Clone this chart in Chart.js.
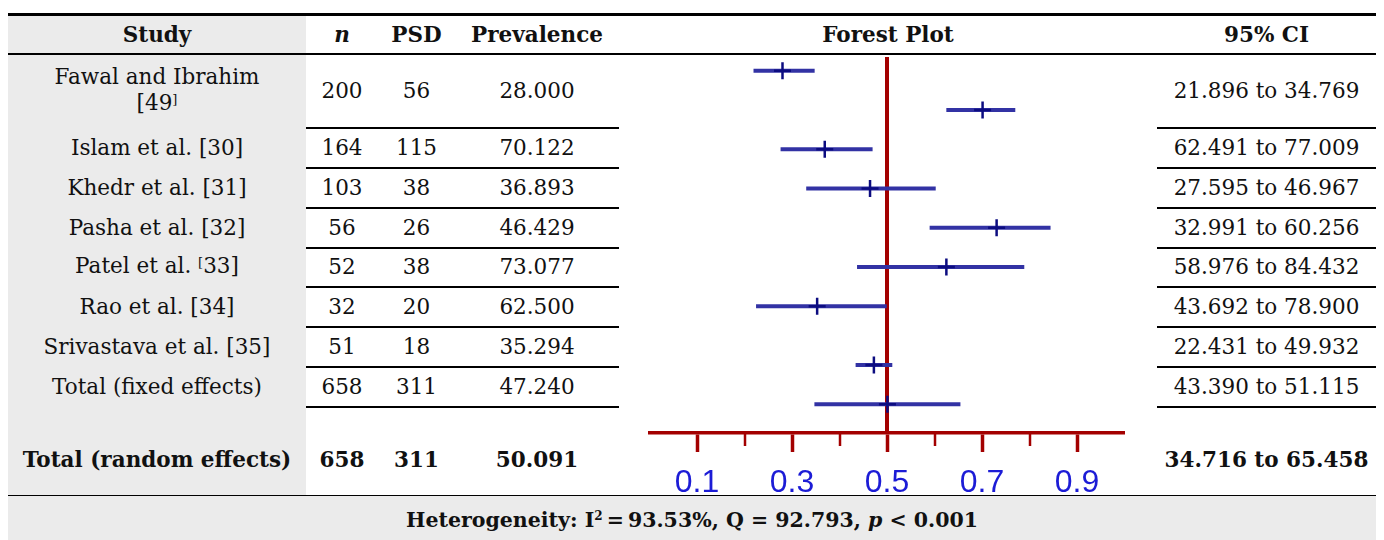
<!DOCTYPE html>
<html>
<head>
<meta charset="utf-8">
<script src="https://cdn.jsdelivr.net/npm/chart.js@4.4.1/dist/chart.umd.min.js"></script>
<style>
  html, body { margin: 0; padding: 0; background: #fff; }
  #page { position: relative; width: 1384px; height: 540px; overflow: hidden;
          font-family: 'DejaVu Serif', serif; font-size: 21.5px; color: #111; }
  .cell { position: absolute; display: flex; align-items: center; justify-content: center;
          text-align: center; line-height: 26px; white-space: nowrap; }
  .bold { font-weight: bold; }
  .rule { position: absolute; background: #000; }
  .gray { position: absolute; background: #ebebeb; }
  .tiny { font-size: 13px; position: relative; top: -6px; }
  .het { font-size: 20.5px; padding-top: 6px; box-sizing: border-box; }
  #forest { position: absolute; left: 619px; top: 55px; }
</style>
</head>
<body>
<div id="page">
  <canvas id="forest" width="538" height="440"></canvas>
</div>
<script>
// table data
var studyLabels = [
  'Fawal and Ibrahim<br>[49<span class="tiny">]</span>',
  'Islam et al. [30]',
  'Khedr et al. [31]',
  'Pasha et al. [32]',
  'Patel et al. <span class="tiny">[</span>33]',
  'Rao et al. [34]',
  'Srivastava et al. [35]',
  'Total (fixed effects)',
  'Total (random effects)'
];
var sampleN = [200, 164, 103, 56, 52, 32, 51, 658, 658];
var psdCount = [56, 115, 38, 26, 38, 20, 18, 311, 311];
var prevalence = [28.000, 70.122, 36.893, 46.429, 73.077, 62.500, 35.294, 47.240, 50.091];
var ciLow = [21.896, 62.491, 27.595, 32.991, 58.976, 43.692, 22.431, 43.390, 34.716];
var ciHigh = [34.769, 77.009, 46.967, 60.256, 84.432, 78.900, 49.932, 51.115, 65.458];

// forest plot rows (the plot stacks its own rows, totals set apart)
var plotRows = [1, 2, 3, 4, 5, 6, 7, 8.5, 9.5];
var refValue = 0.5;
var majorTicks = [0.1, 0.3, 0.5, 0.7, 0.9];
var minorTicks = [0.2, 0.4, 0.6, 0.8];

var headers = ['Study', '<i>n</i>', 'PSD', 'Prevalence', 'Forest Plot', '95% CI'];
var colX = [8, 306, 378, 455, 619, 1157, 1376];
var rowY = [15, 54, 128, 168, 207.5, 247.5, 287, 327, 367, 407, 495];

var page = document.getElementById('page');

function addBox(cls, left, top, width, height, html) {
  var d = document.createElement('div');
  d.className = cls;
  d.style.left = left + 'px';
  d.style.top = top + 'px';
  d.style.width = width + 'px';
  d.style.height = height + 'px';
  if (html !== undefined) {
    var inner = document.createElement('div');
    inner.innerHTML = html;
    d.appendChild(inner);
  }
  page.appendChild(d);
  return d;
}

// backgrounds
addBox('gray', colX[0], 16, colX[1] - colX[0], rowY[10] - 16);
addBox('gray', colX[0], 496, colX[6] - colX[0], 44);

// header
headers.forEach(function(h, c) {
  addBox('cell bold', colX[c], rowY[0], colX[c + 1] - colX[c], rowY[1] - rowY[0], h);
});

// body rows
studyLabels.forEach(function(label, i) {
  var top = rowY[i + 1];
  var h = rowY[i + 2] - top;
  var last = i === studyLabels.length - 1;
  var vals = [label, sampleN[i], psdCount[i], prevalence[i].toFixed(3), '',
    ciLow[i].toFixed(3) + ' to ' + ciHigh[i].toFixed(3)];
  vals.forEach(function(v, c) {
    if (v === '') {
      return;
    }
    var box = addBox(last ? 'cell bold' : 'cell', colX[c], top, colX[c + 1] - colX[c], h, String(v));
    if (last) {
      box.style.paddingTop = '18px';
      box.style.boxSizing = 'border-box';
    }
  });
});

// heterogeneity row
addBox('cell bold het', colX[0], 496, colX[6] - colX[0], 44,
  'Heterogeneity: I<span style="font-size:12px;position:relative;top:-7px">2</span>\u2009=\u200993.53%, Q = 92.793, <i>p</i> &lt; 0.001');

// rules
addBox('rule', colX[0], 13, colX[6] - colX[0], 3);
addBox('rule', colX[0], 53, colX[6] - colX[0], 2);
for (var r = 2; r <= 9; r++) {
  addBox('rule', colX[1], rowY[r] - 1, colX[4] - colX[1], 2);
  addBox('rule', colX[5], rowY[r] - 1, colX[6] - colX[5], 2);
}
addBox('rule', colX[0], 495, colX[6] - colX[0], 1);

// forest plot
var red = '#a30000';
var barColor = '#3232a4';
var markColor = '#0c0c80';

var ciSets = plotRows.map(function(y, i) {
  return {
    data: [{x: ciLow[i] / 100, y: y}, {x: ciHigh[i] / 100, y: y}],
    showLine: true,
    borderColor: barColor,
    borderWidth: 4,
    pointRadius: 0,
    order: 1
  };
});

var yMin = 0.65;
var yMax = 10.23;

var minorTickPlugin = {
  id: 'minorTicks',
  afterDraw: function(chart) {
    var sx = chart.scales.x;
    var ctx = chart.ctx;
    ctx.save();
    ctx.strokeStyle = red;
    ctx.lineWidth = 2.5;
    minorTicks.forEach(function(v) {
      var px = Math.round(sx.getPixelForValue(v));
      ctx.beginPath();
      ctx.moveTo(px, chart.chartArea.bottom);
      ctx.lineTo(px, chart.chartArea.bottom + 13);
      ctx.stroke();
    });
    ctx.restore();
  }
};

new Chart(document.getElementById('forest'), {
  type: 'scatter',
  data: {
    datasets: [{
      data: prevalence.map(function(p, i) {
        return {x: p / 100, y: plotRows[i]};
      }),
      pointStyle: 'cross',
      pointRadius: 8.5,
      borderWidth: 2.5,
      borderColor: markColor,
      order: 0
    }, {
      data: [{x: refValue, y: yMin}, {x: refValue, y: yMax}],
      showLine: true,
      borderColor: red,
      borderWidth: 4,
      pointRadius: 0,
      order: 2
    }].concat(ciSets)
  },
  options: {
    responsive: false,
    animation: false,
    devicePixelRatio: 1,
    layout: {
      autoPadding: false,
      padding: {left: 30.5, right: 32.5, top: 2, bottom: 0}
    },
    scales: {
      x: {
        type: 'linear',
        position: 'bottom',
        min: 0,
        max: 1,
        afterBuildTicks: function(scale) {
          scale.ticks = majorTicks.map(function(v) {
            return {value: v};
          });
        },
        afterFit: function(scale) {
          scale.height = 62;
        },
        border: {color: red, width: 3.5},
        grid: {
          drawOnChartArea: false,
          drawTicks: true,
          tickLength: 19,
          tickWidth: 3.5,
          tickColor: red
        },
        ticks: {
          color: '#1c1cd6',
          padding: 12,
          maxRotation: 0,
          autoSkip: false,
          font: {family: 'Liberation Sans', size: 32},
          callback: function(v) {
            return Number(v).toFixed(1);
          }
        }
      },
      y: {
        type: 'linear',
        display: false,
        reverse: true,
        min: yMin,
        max: yMax
      }
    },
    plugins: {
      legend: {display: false},
      tooltip: {enabled: false}
    }
  },
  plugins: [minorTickPlugin]
});
</script>
</body>
</html>
